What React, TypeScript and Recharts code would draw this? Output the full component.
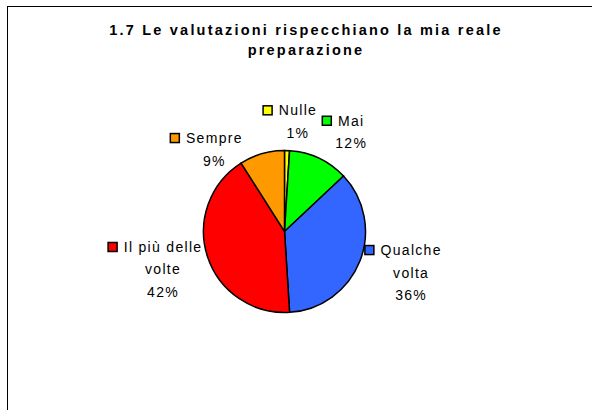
import React from 'react';
import { PieChart, Pie, Cell } from 'recharts';

const categories = ['Nulle', 'Mai', 'Qualche volta', 'Il più delle volte', 'Sempre'];
const percentages = [1, 12, 36, 42, 9];
const sliceColors = ['#FFFF00', '#00FF00', '#3366FF', '#FF0000', '#FF9900'];
const titleLines = ['1.7 Le valutazioni rispecchiano la mia reale', 'preparazione'];

const data = categories.map((name, i) => ({ name, value: percentages[i] }));

const FONT = '"Liberation Sans", Arial, sans-serif';
const LABEL_SIZE = 14;
const LABEL_SPACING = 1.3;
const LINE_H = 22.5;

// layout nudges for the data labels (Excel-like placement)
const labelNudge: Record<string, [number, number]> = {
  'Nulle': [9, 11],
  'Mai': [14.5, 10],
  'Qualche volta': [13.5, -3.5],
  'Il più delle volte': [-7, 0.6],
  'Sempre': [-37, 34],
};

let ctx: CanvasRenderingContext2D | null = null;
function measure(text: string): number {
  if (!ctx) {
    const c = document.createElement('canvas');
    ctx = c.getContext('2d');
  }
  if (!ctx) return text.length * 8;
  ctx.font = `${LABEL_SIZE}px "Liberation Sans", Arial, sans-serif`;
  return ctx.measureText(text).width + LABEL_SPACING * text.length;
}

function wrap(name: string, maxChars = 12): string[] {
  const words = name.split(' ');
  const lines: string[] = [];
  let cur = '';
  for (const w of words) {
    const cand = cur ? cur + ' ' + w : w;
    if (cand.length > maxChars && cur) {
      lines.push(cur);
      cur = w;
    } else {
      cur = cand;
    }
  }
  if (cur) lines.push(cur);
  return lines;
}

const RAD = Math.PI / 180;

function renderLabel(props: any) {
  const { cx, cy, midAngle, outerRadius, name, value, index } = props;
  const R = outerRadius + 40;
  const nudge = labelNudge[name] || [0, 0];
  const bx = cx + R * Math.cos(midAngle * RAD) + nudge[0];
  const by = cy - R * Math.sin(midAngle * RAD) + nudge[1];
  const lines = [...wrap(name), `${value}%`];
  const firstY = by - ((lines.length - 1) * LINE_H) / 2;
  const w0 = measure(lines[0]);
  const sqX = bx - w0 / 2 - 15;
  return (
    <g key={`lbl-${index}`}>
      <rect x={sqX} y={firstY - 4.5} width={9} height={9} fill={sliceColors[index]} stroke="#000" strokeWidth={1.5} />
      {lines.map((ln, i) => (
        <text
          key={i}
          x={bx + LABEL_SPACING / 2}
          y={firstY + i * LINE_H}
          textAnchor="middle"
          dominantBaseline="central"
          fontFamily={FONT}
          fontSize={LABEL_SIZE}
          fill="#000"
          style={{ letterSpacing: `${LABEL_SPACING}px` }}
        >
          {ln}
        </text>
      ))}
    </g>
  );
}

export default function App() {
  return (
    <div style={{ position: 'absolute', left: 0, top: 0, width: 592, height: 410, background: '#fff', overflow: 'hidden' }}>
      <div
        style={{
          position: 'absolute',
          left: 7,
          top: 6,
          width: 585,
          height: 404,
          borderLeft: '1px solid #000',
          borderTop: '1px solid #000',
          boxSizing: 'border-box',
        }}
      />
      <div
        style={{
          position: 'absolute',
          left: 10,
          top: 20,
          width: 592,
          textAlign: 'center',
          fontFamily: FONT,
          fontWeight: 'bold',
          fontSize: 14.5,
          lineHeight: '20px',
          letterSpacing: '2.2px',
          color: '#000',
        }}
      >
        {titleLines.map((t, i) => (
          <div key={i}>{t}</div>
        ))}
      </div>
      <div style={{ position: 'absolute', left: 0, top: 0 }}>
        <PieChart width={592} height={410} margin={{ top: 0, right: 0, bottom: 0, left: 0 }}>
          <Pie
            data={data}
            dataKey="value"
            nameKey="name"
            cx={284.5}
            cy={231.5}
            outerRadius={81}
            startAngle={90}
            endAngle={-270}
            stroke="#000"
            strokeWidth={1.5}
            labelLine={false}
            label={renderLabel}
            isAnimationActive={false}
          >
            {data.map((d, i) => (
              <Cell key={d.name} fill={sliceColors[i]} stroke="#000" strokeWidth={1.5} />
            ))}
          </Pie>
        </PieChart>
      </div>
    </div>
  );
}
